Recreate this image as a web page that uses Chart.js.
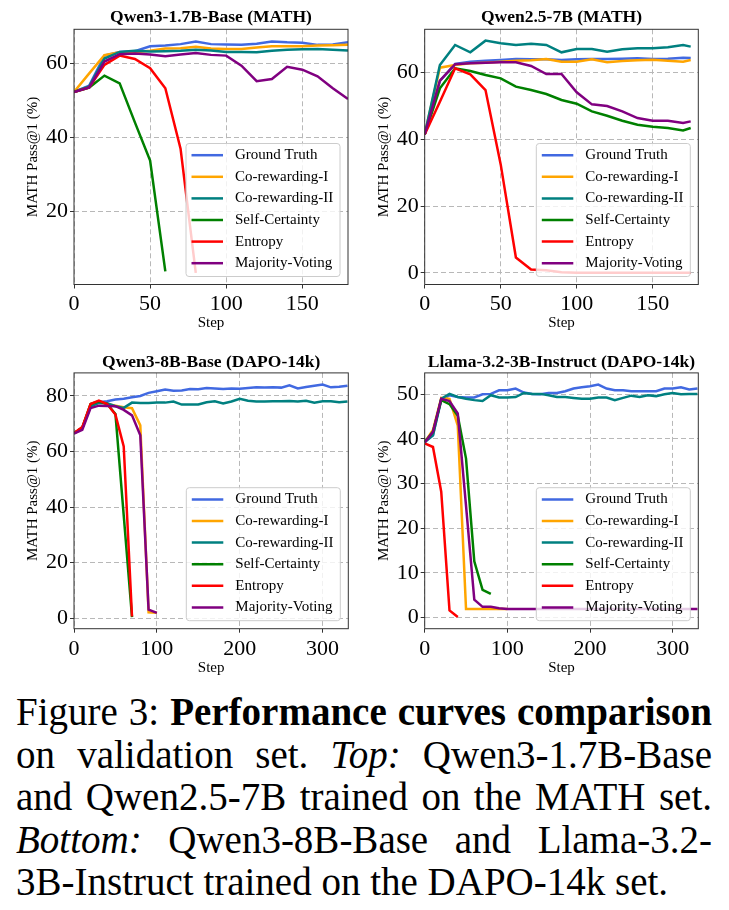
<!DOCTYPE html>
<html>
<head>
<meta charset="utf-8">
<script src="https://cdn.jsdelivr.net/npm/chart.js@4.4.1/dist/chart.umd.min.js"></script>
<style>
  html, body { margin: 0; padding: 0; background: #fff; }
  body { width: 729px; height: 910px; position: relative; overflow: hidden; }
  .panel { position: absolute; }
  .caption { position: absolute; left: 16px; top: 0; font-family: "Liberation Serif", serif; font-size: 39px; color: #000; }
  .caption div { position: absolute; left: 0; white-space: nowrap; height: 42px; line-height: 42px; }
</style>
</head>
<body>
<div class="panel" style="left:0px;top:0px;width:364px;height:340px"><canvas id="c1"></canvas></div>
<div class="panel" style="left:364px;top:0px;width:365px;height:340px"><canvas id="c2"></canvas></div>
<div class="panel" style="left:0px;top:340px;width:364px;height:340px"><canvas id="c3"></canvas></div>
<div class="panel" style="left:364px;top:340px;width:365px;height:340px"><canvas id="c4"></canvas></div>

<div class="caption">
  <div class="just" style="top:691px">Figure 3: <b>Performance curves comparison</b></div>
  <div class="just" style="top:733.5px">on validation set. <i>Top:</i> Qwen3-1.7B-Base</div>
  <div class="just" style="top:776px">and Qwen2.5-7B trained on the MATH set.</div>
  <div class="just" style="top:818.5px"><i>Bottom:</i> Qwen3-8B-Base and Llama-3.2-</div>
  <div style="top:861px">3B-Instruct trained on the DAPO-14k set.</div>
</div>

<script>
// series shared by all four plots
const seriesNames = ["Ground Truth", "Co-rewarding-I", "Co-rewarding-II", "Self-Certainty", "Entropy", "Majority-Voting"];
const seriesColors = ["#4169E1", "#FFA500", "#008080", "#008000", "#FF0000", "#800080"];

// Qwen3-1.7B-Base (MATH)
const steps1 = [0, 10, 20, 30, 40, 50, 60, 70, 80, 90, 100, 110, 120, 130, 140, 150, 160, 170, 180];
const gt1 = [52.3, 54.0, 62.1, 63.1, 63.3, 64.6, 64.8, 65.2, 65.9, 65.2, 65.1, 65.0, 65.3, 65.9, 65.7, 65.6, 65.0, 65.1, 65.7];
const coI1 = [52.3, 57.3, 62.2, 63.0, 63.0, 63.4, 64.0, 64.1, 64.5, 64.0, 63.9, 63.9, 64.3, 64.6, 64.6, 64.6, 64.8, 64.9, 65.0];
const coII1 = [52.3, 53.8, 61.3, 63.1, 63.4, 63.2, 63.3, 63.4, 63.7, 63.5, 63.1, 63.1, 63.0, 63.4, 63.7, 63.8, 63.9, 63.7, 63.5];
const sc1 = [52.3, 53.5, 56.7, 54.6, 44.1, 33.8, 3.9];
const ent1 = [52.3, 53.5, 59.6, 62.1, 61.2, 58.7, 53.3, 37.0, 3.5];
const mv1 = [52.3, 53.5, 60.5, 62.5, 62.7, 62.4, 61.9, 62.4, 62.8, 62.3, 62.1, 59.4, 55.2, 55.8, 59.1, 58.3, 56.5, 53.3, 50.4];

// Qwen2.5-7B (MATH)
const steps2 = [0, 10, 20, 30, 40, 50, 60, 70, 80, 90, 100, 110, 120, 130, 140, 150, 160, 170, 175];
const gt2 = [41.5, 57.5, 62.6, 63.3, 63.6, 63.8, 64.1, 64.0, 64.0, 63.8, 64.0, 64.1, 64.1, 64.2, 64.3, 64.1, 64.2, 64.5, 64.4];
const coI2 = [41.5, 61.5, 62.3, 62.8, 63.0, 63.3, 63.6, 63.7, 64.1, 63.3, 63.3, 64.0, 63.1, 63.5, 63.7, 63.9, 63.6, 63.3, 63.8];
const coII2 = [41.5, 62.3, 68.3, 66.1, 69.6, 68.8, 68.3, 68.7, 68.3, 66.1, 67.1, 67.1, 66.3, 67.0, 67.3, 67.3, 67.6, 68.3, 67.8];
const sc2 = [41.5, 55.3, 61.3, 60.5, 59.3, 58.3, 55.8, 54.8, 53.6, 51.8, 50.7, 48.4, 47.1, 45.6, 44.4, 43.8, 43.4, 42.7, 43.4];
const ent2 = [41.5, 51.3, 61.3, 59.5, 54.8, 32.5, 4.6, 1.0, 0.8, 0.2, 0.0, 0.0, 0.0, 0.0, 0.0, 0.0, 0.0, 0.0, 0.0];
const mv2 = [41.5, 57.6, 62.5, 62.8, 63.0, 63.1, 63.1, 62.0, 59.6, 59.6, 54.1, 50.5, 50.0, 48.4, 46.4, 45.6, 45.6, 44.9, 45.4];

// Qwen3-8B-Base (DAPO-14k)
const steps3 = [0, 10, 20, 30, 40, 50, 60, 70, 80, 90, 100, 110, 120, 130, 140, 150, 160, 170, 180, 190, 200, 210, 220, 230, 240, 250, 260, 270, 280, 290, 300, 310, 320, 330];
const gt3 = [66.6, 68.5, 76.5, 77.7, 78.1, 78.7, 79.0, 79.5, 80.0, 81.1, 81.7, 82.3, 81.9, 82.0, 82.5, 82.4, 82.9, 82.7, 82.5, 82.7, 82.6, 82.9, 83.1, 83.0, 83.1, 83.0, 83.8, 82.7, 83.2, 83.7, 84.1, 83.1, 83.3, 83.7];
const coI3 = [66.6, 68.5, 76.8, 78.0, 77.1, 76.5, 75.9, 75.6, 69.4, 2.1, 1.9];
const coII3 = [66.6, 68.5, 76.2, 77.5, 77.4, 76.3, 75.7, 77.6, 77.5, 77.5, 77.6, 77.6, 78.0, 76.9, 76.9, 76.9, 77.7, 78.1, 77.3, 78.0, 79.0, 78.3, 78.0, 78.0, 78.1, 78.1, 78.2, 78.0, 78.3, 77.6, 78.1, 78.1, 77.7, 78.0];
const sc3 = [66.6, 68.5, 77.1, 78.1, 77.1, 73.5, 37.0, 0.4];
const ent3 = [66.6, 68.8, 77.1, 78.3, 77.1, 73.3, 61.8, 0.6];
const mv3 = [66.4, 67.8, 75.6, 76.5, 76.4, 76.3, 75.0, 73.0, 65.8, 3.1, 1.9];

// Llama-3.2-3B-Instruct (DAPO-14k)
const steps4 = steps3;
const gt4 = [39.3, 40.8, 48.7, 49.8, 49.4, 49.3, 49.3, 50.0, 50.1, 50.9, 50.9, 51.3, 50.4, 50.1, 50.0, 50.3, 50.3, 50.7, 51.3, 51.6, 51.8, 52.2, 51.3, 50.9, 50.9, 50.7, 50.7, 50.7, 50.7, 51.3, 51.3, 51.6, 51.1, 51.3];
const coI4 = [39.3, 42.0, 49.2, 49.0, 43.0, 1.9, 1.9, 1.9, 1.9, 1.9, 1.9];
const coII4 = [39.3, 40.8, 49.0, 50.1, 49.4, 49.0, 48.7, 48.5, 49.8, 49.3, 49.3, 49.4, 50.3, 50.1, 50.1, 49.8, 49.4, 49.4, 49.2, 49.0, 49.0, 49.3, 49.3, 48.7, 49.2, 49.7, 49.4, 49.8, 49.6, 50.0, 50.3, 50.0, 50.1, 50.1];
const sc4 = [39.3, 41.6, 48.7, 47.8, 45.2, 35.6, 12.6, 6.2, 5.3];
const ent4 = [39.0, 38.2, 28.2, 1.6, 0.1];
const mv4 = [39.2, 41.6, 49.0, 48.5, 45.7, 25.0, 4.0, 2.4, 2.4, 2.1, 1.9, 1.9, 1.9, 1.9, 1.9, 1.9, 1.9, 1.9, 1.9, 1.9, 1.9, 1.9, 1.9, 1.9, 1.9, 1.9, 1.9, 1.9, 1.9, 1.9, 1.9, 1.9, 1.9, 1.9];

// tick labels
const xTicksMath = [0, 50, 100, 150];
const xTicksDapo = [0, 100, 200, 300];
const yTicks1 = [20, 40, 60];
const yTicks2 = [0, 20, 40, 60];
const yTicks3 = [0, 20, 40, 60, 80];
const yTicks4 = [0, 10, 20, 30, 40, 50];

const SERIF = '"Liberation Serif", "Times New Roman", serif';

// layout of each subplot, page pixels: canvas box and plot area
const panels = [
  { id: "c1", title: "Qwen3-1.7B-Base (MATH)", box: [0, 0, 364, 340], area: [74, 28.7, 348, 284.5],
    titleY: 16.7, yLabelX: 33.5, stepY: 323, xMax: 180, yMin: 0.35, yMax: 69.2, xTicks: xTicksMath, yTicks: yTicks1,
    series: [[steps1, gt1], [steps1, coI1], [steps1, coII1], [steps1, sc1], [steps1, ent1], [steps1, mv1]] },
  { id: "c2", title: "Qwen2.5-7B (MATH)", box: [364, 0, 729, 340], area: [424.7, 28.7, 698.3, 284.5],
    titleY: 16.7, yLabelX: 384, stepY: 323, xMax: 180, yMin: -3.5, yMax: 73.0, xTicks: xTicksMath, yTicks: yTicks2,
    series: [[steps2, gt2], [steps2, coI2], [steps2, coII2], [steps2, sc2], [steps2, ent2], [steps2, mv2]] },
  { id: "c3", title: "Qwen3-8B-Base (DAPO-14k)", box: [0, 340, 364, 680], area: [74, 372.3, 348.3, 628.7],
    titleY: 361.7, yLabelX: 33.5, stepY: 668, xMax: 331, yMin: -3.8, yMax: 88.3, xTicks: xTicksDapo, yTicks: yTicks3,
    series: [[steps3, gt3], [steps3, coI3], [steps3, coII3], [steps3, sc3], [steps3, ent3], [steps3, mv3]] },
  { id: "c4", title: "Llama-3.2-3B-Instruct (DAPO-14k)", box: [364, 340, 729, 680], area: [424.7, 372.3, 698.3, 628.7],
    titleY: 361.7, yLabelX: 384, stepY: 668, xMax: 331, yMin: -2.5, yMax: 54.8, xTicks: xTicksDapo, yTicks: yTicks4,
    series: [[steps4, gt4], [steps4, coI4], [steps4, coII4], [steps4, sc4], [steps4, ent4], [steps4, mv4]] }
];

// axes frame + matplotlib-like legend box in the lower right corner
const frameAndLegend = {
  id: "frameAndLegend",
  afterDraw(chart) {
    const ctx = chart.ctx;
    const a = chart.chartArea;
    ctx.save();
    ctx.strokeStyle = "#333";
    ctx.lineWidth = 1;
    ctx.strokeRect(a.left, a.top, a.right - a.left, a.bottom - a.top);

    const w = 154, h = 133;
    const x0 = a.right - 8 - w, y0 = a.bottom - 8 - h;
    ctx.beginPath();
    ctx.roundRect(x0, y0, w, h, 3);
    ctx.fillStyle = "rgba(255,255,255,0.8)";
    ctx.fill();
    ctx.strokeStyle = "#cccccc";
    ctx.stroke();

    ctx.font = "15px " + SERIF;
    ctx.textBaseline = "middle";
    chart.data.datasets.forEach(function (ds, i) {
      const y = y0 + 11.7 + i * 21.6;
      ctx.strokeStyle = ds.borderColor;
      ctx.lineWidth = 2.5;
      ctx.beginPath();
      ctx.moveTo(x0 + 5.5, y);
      ctx.lineTo(x0 + 37, y);
      ctx.stroke();
      ctx.fillStyle = "#000";
      ctx.fillText(ds.label, x0 + 49, y);
    });
    ctx.restore();
  }
};

function makeDatasets(series) {
  return series.map(function (s, i) {
    const xs = s[0], ys = s[1];
    return {
      label: seriesNames[i],
      data: ys.map(function (v, k) { return { x: xs[k], y: v }; }),
      borderColor: seriesColors[i],
      backgroundColor: seriesColors[i],
      borderWidth: 2.5,
      pointRadius: 0,
      tension: 0,
      fill: false,
      order: series.length - i
    };
  });
}

function axisStyle() {
  return {
    grid: { color: "#b8b8b8", lineWidth: 1, drawTicks: true, tickLength: 4, tickColor: "#333", tickWidth: 1, tickBorderDash: [] },
    border: { display: false, dash: [5, 3] }
  };
}

function drawPanel(p) {
  const bx = p.box, ar = p.area;
  const yAxisW = ar[0] - bx[0];
  const xAxisH = bx[3] - ar[3];
  const tTop = p.titleY - bx[1] - 10.2;
  const tBottom = ar[1] - p.titleY - 10.2;

  const xAxis = axisStyle();
  const yAxis = axisStyle();

  new Chart(p.id, {
    type: "line",
    data: { datasets: makeDatasets(p.series) },
    options: {
      responsive: true,
      maintainAspectRatio: false,
      animation: false,
      events: [],
      layout: { padding: { left: 0, top: 0, bottom: 0, right: bx[2] - ar[2] } },
      plugins: {
        legend: { display: false },
        tooltip: { enabled: false },
        title: {
          display: true,
          text: p.title,
          fullSize: false,
          color: "#000",
          font: { family: SERIF, size: 17.5, weight: "bold" },
          padding: { top: tTop, bottom: tBottom }
        }
      },
      scales: {
        x: {
          type: "linear",
          min: 0,
          max: p.xMax,
          afterBuildTicks: function (s) { s.ticks = p.xTicks.map(function (v) { return { value: v }; }); },
          afterFit: function (s) { s.height = xAxisH; },
          ticks: { font: { family: SERIF, size: 22 }, color: "#000", padding: 3, maxRotation: 0 },
          title: { display: true, text: "Step", color: "#000", font: { family: SERIF, size: 15 },
                   padding: { top: 0, bottom: (bx[3] - p.stepY) - 9 } },
          grid: xAxis.grid,
          border: xAxis.border
        },
        y: {
          type: "linear",
          min: p.yMin,
          max: p.yMax,
          afterBuildTicks: function (s) { s.ticks = p.yTicks.map(function (v) { return { value: v }; }); },
          afterFit: function (s) { s.width = yAxisW; },
          ticks: { font: { family: SERIF, size: 22 }, color: "#000", padding: 2 },
          title: { display: true, text: "MATH Pass@1 (%)", color: "#000", font: { family: SERIF, size: 15 },
                   padding: { top: (p.yLabelX - bx[0]) - 9, bottom: 0 } },
          grid: yAxis.grid,
          border: yAxis.border
        }
      }
    },
    plugins: [frameAndLegend]
  });
}

panels.forEach(drawPanel);

// justify the caption lines like the typeset paragraph
document.querySelectorAll(".caption .just").forEach(function (el) {
  const natural = el.getBoundingClientRect().width;
  const gaps = (el.textContent.match(/ /g) || []).length;
  if (gaps > 0) el.style.wordSpacing = ((696 - natural) / gaps) + "px";
});
</script>
</body>
</html>
